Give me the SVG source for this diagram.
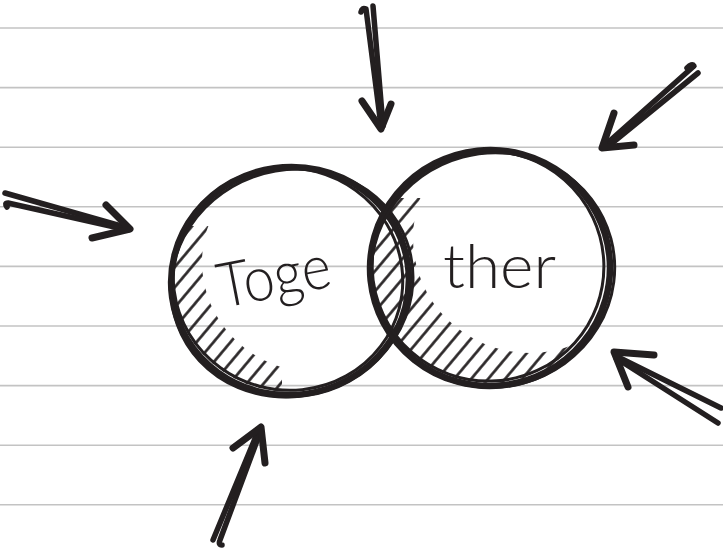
<svg xmlns="http://www.w3.org/2000/svg" width="723" height="550" viewBox="0 0 723 550">
<style>
.rule{stroke:#c3c3c3;stroke-width:1.6}
.ink{fill:none;stroke:#231f20;stroke-linecap:round;stroke-linejoin:round}
.shaft{stroke-width:5.5}
.head{stroke-width:7}
.label{font-family:Lato,"Open Sans","DejaVu Sans",sans-serif;font-weight:300;fill:#231f20}
</style>
<defs>
<pattern id="hatch" patternUnits="userSpaceOnUse" width="13" height="13" patternTransform="rotate(40)">
<line x1="6.5" y1="0" x2="6.5" y2="13" stroke="#231f20" stroke-width="2.6"/>
</pattern>
<clipPath id="clipR"><ellipse cx="490" cy="268" rx="118" ry="116"/></clipPath>
<mask id="mL" maskUnits="userSpaceOnUse" x="0" y="0" width="723" height="550">
<ellipse cx="290" cy="281" rx="116" ry="111" fill="#fff"/>
<ellipse cx="318" cy="262" rx="116" ry="111" fill="#000"/>
<rect x="0" y="0" width="723" height="226" fill="#000"/>
<rect x="282" y="0" width="441" height="550" fill="#000"/>
</mask>
<mask id="mR" maskUnits="userSpaceOnUse" x="0" y="0" width="723" height="550">
<ellipse cx="490" cy="268" rx="117" ry="115" fill="#fff"/>
<ellipse cx="530" cy="238" rx="117" ry="115" fill="#000"/>
<rect x="360" y="0" width="363" height="198" fill="#000"/>
<ellipse cx="290" cy="281" rx="118" ry="112" fill="#fff" clip-path="url(#clipR)"/>
</mask>
</defs>
<rect width="723" height="550" fill="#fff"/>
<g id="ruled-lines">
<line class="rule" x1="0" y1="28" x2="723" y2="28"/>
<line class="rule" x1="0" y1="87.6" x2="723" y2="87.6"/>
<line class="rule" x1="0" y1="147.2" x2="723" y2="147.2"/>
<line class="rule" x1="0" y1="206.8" x2="723" y2="206.8"/>
<line class="rule" x1="0" y1="266.4" x2="723" y2="266.4"/>
<line class="rule" x1="0" y1="326" x2="723" y2="326"/>
<line class="rule" x1="0" y1="385.6" x2="723" y2="385.6"/>
<line class="rule" x1="0" y1="445.2" x2="723" y2="445.2"/>
<line class="rule" x1="0" y1="504.8" x2="723" y2="504.8"/>
</g>
<g id="hatching">
<rect width="723" height="550" fill="url(#hatch)" mask="url(#mL)"/>
<rect width="723" height="550" fill="url(#hatch)" mask="url(#mR)"/>
</g>
<g id="circle-left">
<ellipse class="ink" cx="290" cy="281" rx="119" ry="114" transform="rotate(-8 290 281)" stroke-width="6.5"/>
<ellipse class="ink" cx="288" cy="279" rx="115" ry="111" transform="rotate(15 288 279)" stroke-width="3"/>
<ellipse class="ink" cx="292" cy="283" rx="122" ry="113" transform="rotate(-20 292 283)" stroke-width="3"/>
<text class="label" x="222" y="308" font-size="62" textLength="114" lengthAdjust="spacingAndGlyphs" transform="rotate(-11 222 308)">Toge</text>
</g>
<g id="circle-right">
<ellipse class="ink" cx="490" cy="268" rx="120" ry="118" transform="rotate(-6 490 268)" stroke-width="6.5"/>
<ellipse class="ink" cx="488" cy="266" rx="116" ry="115" transform="rotate(20 488 266)" stroke-width="3"/>
<ellipse class="ink" cx="493" cy="270" rx="122" ry="117" transform="rotate(-15 493 270)" stroke-width="3"/>
<text class="label" x="443" y="288" font-size="62" textLength="113" lengthAdjust="spacingAndGlyphs">ther</text>
</g>
<g id="arrows">
<g id="arrow-top">
<path class="ink shaft" d="M361,12 Q362,7 366,9 L381,126"/>
<path class="ink shaft" d="M373,6 L383,126"/>
<path class="ink head" d="M362,101 L381,129 L391,104"/>
</g>
<g id="arrow-top-right">
<path class="ink shaft" d="M687,68 Q692,63 694,66 L604,146"/>
<path class="ink shaft" d="M698,73 L606,148"/>
<path class="ink head" d="M614,113 L602,148 L634,145"/>
</g>
<g id="arrow-bottom-right">
<path class="ink shaft" d="M721,408 L618,357"/>
<path class="ink shaft" d="M718,423 L616,358"/>
<path class="ink head" d="M654,355 L614,352 L628,387"/>
</g>
<g id="arrow-left">
<path class="ink shaft" d="M5,193 L128,228"/>
<path class="ink shaft" d="M7,207 Q4,203 8,203 L128,230"/>
<path class="ink head" d="M106,205 L130,229 L92,238"/>
</g>
<g id="arrow-bottom">
<path class="ink shaft" d="M213,540 L259,429"/>
<path class="ink shaft" d="M222,545 Q218,545 220,540 L261,430"/>
<path class="ink head" d="M233,448 L261,427 L265,463"/>
</g>
</g>
</svg>
